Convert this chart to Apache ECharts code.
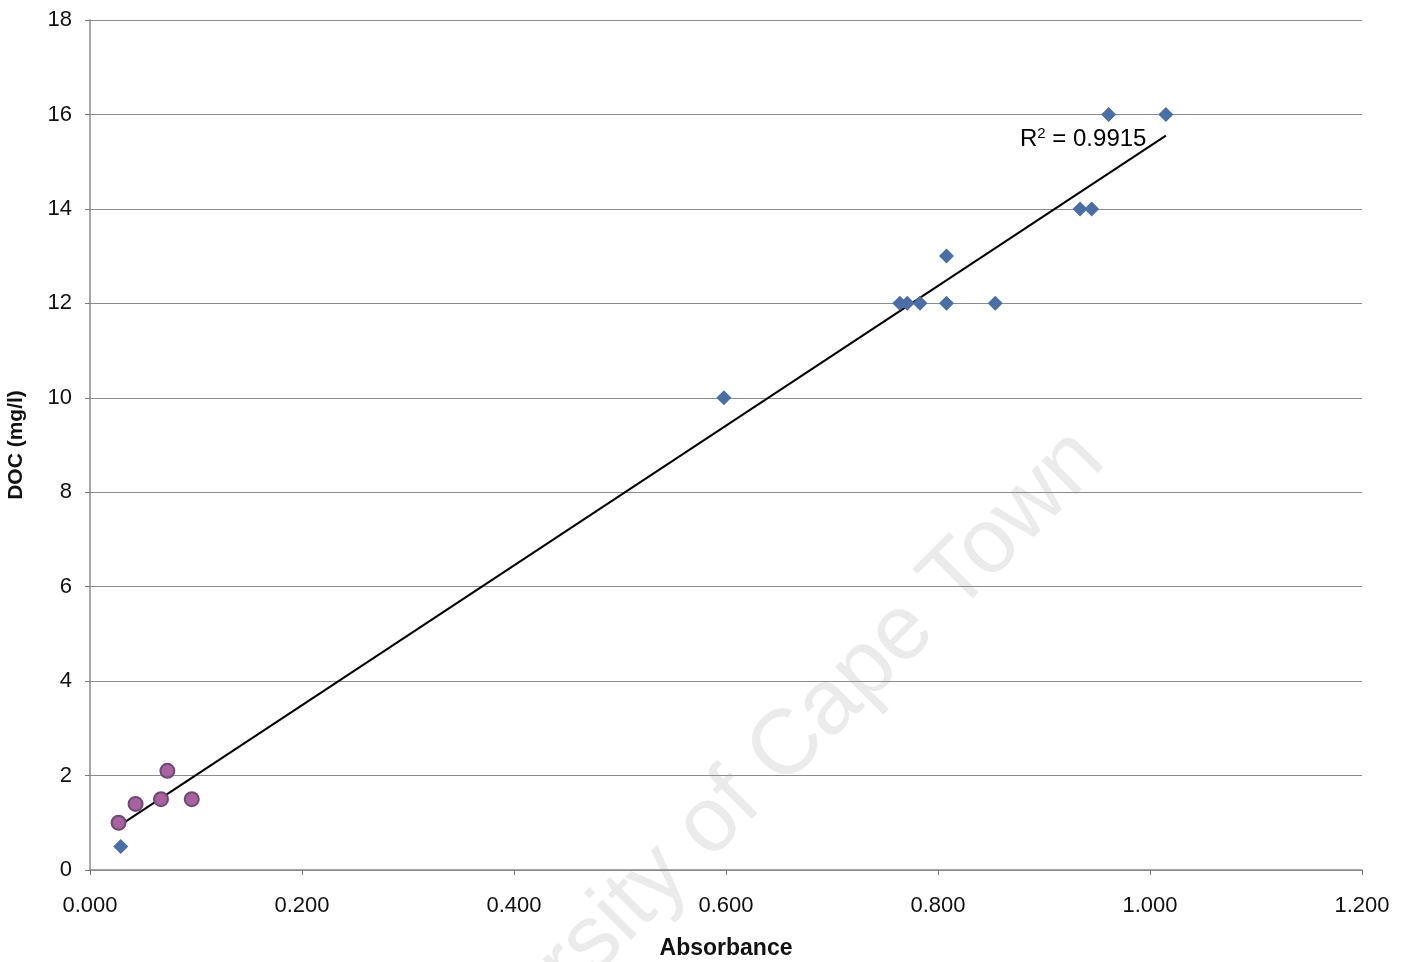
<!DOCTYPE html>
<html>
<head>
<meta charset="utf-8">
<script src="https://cdn.jsdelivr.net/npm/echarts@6/dist/echarts.min.js"></script>
<style>html,body{margin:0;padding:0;background:#fff}#c{width:1409px;height:962px}</style>
</head>
<body>
<div id="c"></div>
<script>
// Blue diamond series (Absorbance, DOC mg/l)
var blueX = [0.029, 0.598, 0.764, 0.771, 0.783, 0.808, 0.808, 0.854, 0.934, 0.945, 0.961, 1.015];
var blueY = [0.5, 10, 12, 12, 12, 12, 13, 12, 14, 14, 16, 16];
// Purple circle series
var purpleX = [0.027, 0.043, 0.067, 0.073, 0.096];
var purpleY = [1.0, 1.4, 1.5, 2.1, 1.5];
// Linear trendline endpoints
var trendX = [0.027, 1.015];
var trendY = [0.93, 15.55];
var r2Text = '0.9915';
var xTicks = ['0.000','0.200','0.400','0.600','0.800','1.000','1.200'];

function pairs(xs, ys){ return xs.map(function(x,i){ return [x, ys[i]]; }); }

var chart = echarts.init(document.getElementById('c'), null, {renderer:'canvas'});
var font = 'Liberation Sans, Arial, sans-serif';
chart.setOption({
  animation: false,
  backgroundColor: '#ffffff',
  grid: {left: 90, right: 47, top: 20, bottom: 92, containLabel: false, outerBoundsMode: 'none'},
  xAxis: {
    type: 'value', min: 0, max: 1.2, interval: 0.2,
    name: 'Absorbance', nameLocation: 'middle', nameGap: 67,
    nameTextStyle: {fontFamily: font, fontSize: 23, fontWeight: 'bold', color: '#111'},
    axisLine: {show: true, lineStyle: {color: '#8a8a8a', width: 1.5}},
    axisTick: {show: true, length: 5, lineStyle: {color: '#777'}},
    axisLabel: {fontFamily: font, fontSize: 22, color: '#111', margin: 25,
      formatter: function(v){ return xTicks[Math.round(v/0.2)]; }},
    splitLine: {show: false}
  },
  yAxis: {
    type: 'value', min: 0, max: 18, interval: 2,
    name: 'DOC (mg/l)', nameLocation: 'middle', nameGap: 63,
    nameTextStyle: {fontFamily: font, fontSize: 21, fontWeight: 'bold', color: '#111'},
    axisLine: {show: true, lineStyle: {color: '#8a8a8a', width: 1.5}},
    axisTick: {show: true, length: 5, lineStyle: {color: '#777'}},
    axisLabel: {fontFamily: font, fontSize: 22, color: '#111', margin: 18},
    splitLine: {show: true, lineStyle: {color: '#8c8c8c', width: 1}}
  },
  graphic: [
    {type: 'text', z: -10, silent: true,
     x: 739, y: 796, rotation: Math.PI/4,
     style: {text: 'University of Cape Town', fontFamily: font, fontSize: 92, fill: '#ebebeb',
             align: 'center', verticalAlign: 'middle'}
    },
    {type: 'text', x: 1020, y: 126, z: 100,
     style: {
       text: '{a|R}{s|2}{a| = ' + r2Text + '}',
       rich: {
         a: {fontFamily: font, fontSize: 24, color: '#111'},
         s: {fontFamily: font, fontSize: 15, color: '#111', verticalAlign: 'top', padding: [0,0,12,0]}
       }
     }
    }
  ],
  series: [
    {type: 'line', data: pairs(trendX, trendY), symbol: 'none', z: 3,
     lineStyle: {color: '#000', width: 2}},
    {type: 'scatter', data: pairs(blueX, blueY), symbol: 'diamond', symbolSize: [15, 15], z: 4,
     itemStyle: {color: '#4a6ea6', opacity: 1}},
    {type: 'scatter', data: pairs(purpleX, purpleY), symbol: 'circle', symbolSize: 14, z: 5,
     itemStyle: {color: '#a9619f', borderColor: '#6c4a78', borderWidth: 2, opacity: 1}}
  ]
});
</script>
</body>
</html>
